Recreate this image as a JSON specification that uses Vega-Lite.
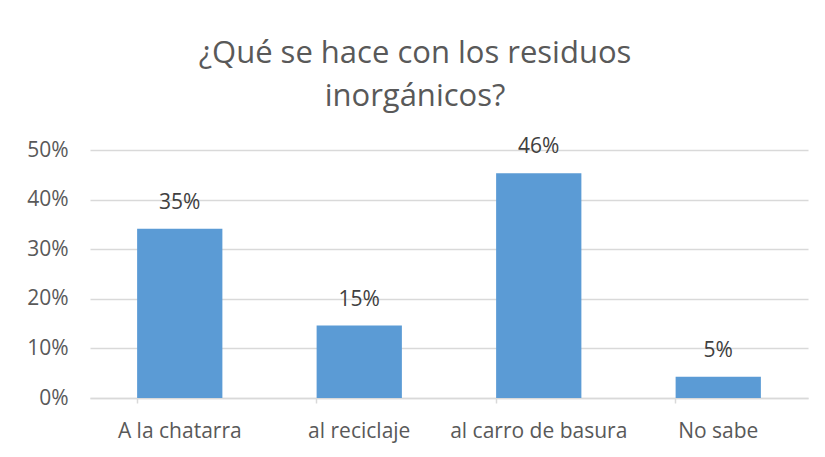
{
  "$schema": "https://vega.github.io/schema/vega-lite/v6.json",
  "autosize": "none",
  "width": 718,
  "height": 248,
  "padding": {"left": 90, "top": 150, "right": 17, "bottom": 59},
  "background": "white",
  "config": {
    "view": {"stroke": null},
    "font": "Open Sans"
  },
  "title": {
    "text": ["¿Qué se hace con los residuos", "inorgánicos?"],
    "font": "Open Sans",
    "fontSize": 31,
    "fontWeight": "normal",
    "color": "#595959",
    "anchor": "middle",
    "baseline": "alphabetic",
    "lineHeight": 43,
    "offset": 44,
    "dy": 45,
    "dx": -34
  },
  "data": {
    "values": [
      {"categoria": "A la chatarra", "valor": 0.341, "etiqueta": "35%"},
      {"categoria": "al reciclaje", "valor": 0.146, "etiqueta": "15%"},
      {"categoria": "al carro de basura", "valor": 0.453, "etiqueta": "46%"},
      {"categoria": "No sabe", "valor": 0.043, "etiqueta": "5%"}
    ]
  },
  "encoding": {
    "x": {
      "field": "categoria",
      "type": "nominal",
      "sort": null,
      "title": null,
      "scale": {"paddingInner": 0.525, "paddingOuter": 0.2625},
      "axis": {
        "labelAngle": 0,
        "labelFont": "Open Sans",
        "labelFontSize": 21,
        "labelColor": "#595959",
        "labelPadding": 17,
        "domainColor": "#D9D9D9",
        "domainWidth": 1.5,
        "tickColor": "#D9D9D9",
        "tickWidth": 1.5,
        "tickSize": 5,
        "bandPosition": 0
      }
    },
    "y": {
      "field": "valor",
      "type": "quantitative",
      "title": null,
      "scale": {"domain": [0, 0.5], "nice": false},
      "axis": {
        "values": [0, 0.1, 0.2, 0.3, 0.4, 0.5],
        "format": ".0%",
        "domain": false,
        "ticks": false,
        "labelFont": "Open Sans",
        "labelFontSize": 21,
        "labelColor": "#595959",
        "labelPadding": 22,
        "gridColor": "#D9D9D9",
        "gridWidth": 1.5
      }
    }
  },
  "layer": [
    {"mark": {"type": "bar", "color": "#5B9BD5"}},
    {
      "mark": {
        "type": "text",
        "font": "Open Sans",
        "fontSize": 21,
        "color": "#404040",
        "baseline": "alphabetic",
        "dy": -20
      },
      "encoding": {"text": {"field": "etiqueta"}}
    }
  ]
}
